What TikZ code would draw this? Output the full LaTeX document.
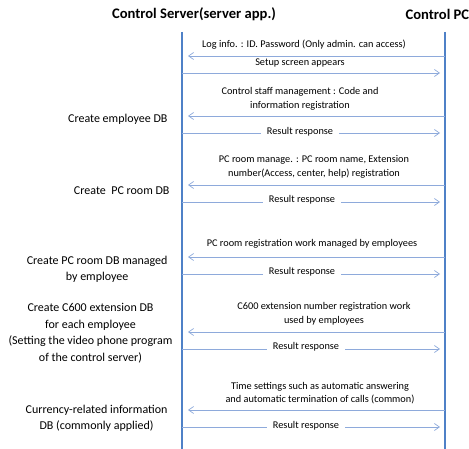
\documentclass[tikz,border=0pt]{standalone}
\usepackage{fontspec}
\setmainfont{Carlito}
\usetikzlibrary{arrows.meta}
\definecolor{lifeblue}{HTML}{4F81C7}
\definecolor{msgblue}{HTML}{8EAADB}

\begin{document}
\begin{tikzpicture}[
    x=1pt, y=-1pt,
    lifeline/.style={draw=lifeblue, line width=2.2pt},
    msg/.style={draw=msgblue, line width=0.7pt, -{Straight Barb[length=5pt, width=7pt]}},
    note/.style={font=\fontsize{10.3}{13.5}\selectfont, align=center, inner sep=1pt},
    reply/.style={note, fill=white, inner xsep=6pt, inner ysep=3pt},
    task/.style={font=\fontsize{12}{16}\selectfont, align=center, anchor=east},
    actor/.style={font=\fontsize{14.6}{17}\selectfont\bfseries}
]
    \useasboundingbox (0,0) rectangle (469,449);

    % Actors
    \node (srv) [actor] at (194,14) {Control Server(server app.)};
    \node (pc)  [actor, anchor=west] at (402,14) {Control PC};

    % Lifelines
    \coordinate (srvtop) at (182,32);
    \coordinate (srvbot) at (182,449);
    \coordinate (pctop)  at (445,32);
    \coordinate (pcbot)  at (445,449);
    \draw [lifeline] (srvtop) -- (srvbot);
    \draw [lifeline] (pctop) -- (pcbot);

    % Message end points on both lifelines
    \foreach \n/\y in {1/56, 2/73, 3/116, 4/133, 5/185, 6/202,
                       7/257, 8/274, 9/332, 10/349, 11/410, 12/427} {
        \coordinate (s\n) at (182,\y);
        \coordinate (p\n) at (445,\y);
    }

    % PC -> server (requests)
    \foreach \n in {1,3,5,7,9,11}
        \draw [msg, shorten >=6pt] (p\n) -- (s\n);
    % server -> PC (responses)
    \foreach \n in {2,4,6,8,10,12}
        \draw [msg, shorten >=5pt] (s\n) -- (p\n);

    % Message labels
    \node (l1)  [note] at (304,45) {Log info. : ID. Password (Only admin. can access)};
    \node (l2)  [note] at (300,63) {Setup screen appears};
    \node (l3)  [note] at (300,99) {Control staff management : Code and\\information registration};
    \node (l4)  [reply] at (300,132) {Result response};
    \node (l5)  [note] at (314,167) {PC room manage. : PC room name, Extension\\number(Access, center, help) registration};
    \node (l6)  [reply] at (302,200) {Result response};
    \node (l7)  [note] at (312,244) {PC room registration work managed by employees};
    \node (l8)  [reply] at (302,272) {Result response};
    \node (l9)  [note] at (324,314) {C600 extension number registration work\\used by employees};
    \node (l10) [reply] at (306,347) {Result response};
    \node (l11) [note] at (320,393) {Time settings such as automatic answering\\and automatic termination of calls (common)};
    \node (l12) [reply] at (306,426) {Result response};

    % Server side tasks
    \node (t1) [task] at (171,119) {Create employee DB};
    \node (t2) [task] at (173,191) {Create\ \ PC room DB};
    \node (t3) [task] at (171,269) {Create PC room DB managed\\by employee};
    \node (t4) [task, font=\fontsize{12}{16.5}\selectfont] at (176,333) {Create C600 extension DB\\for each employee\\(Setting the video phone program\\of the control server)};
    \node (t5) [task] at (171,418) {Currency-related information\\DB (commonly applied)};

\end{tikzpicture}
\end{document}
